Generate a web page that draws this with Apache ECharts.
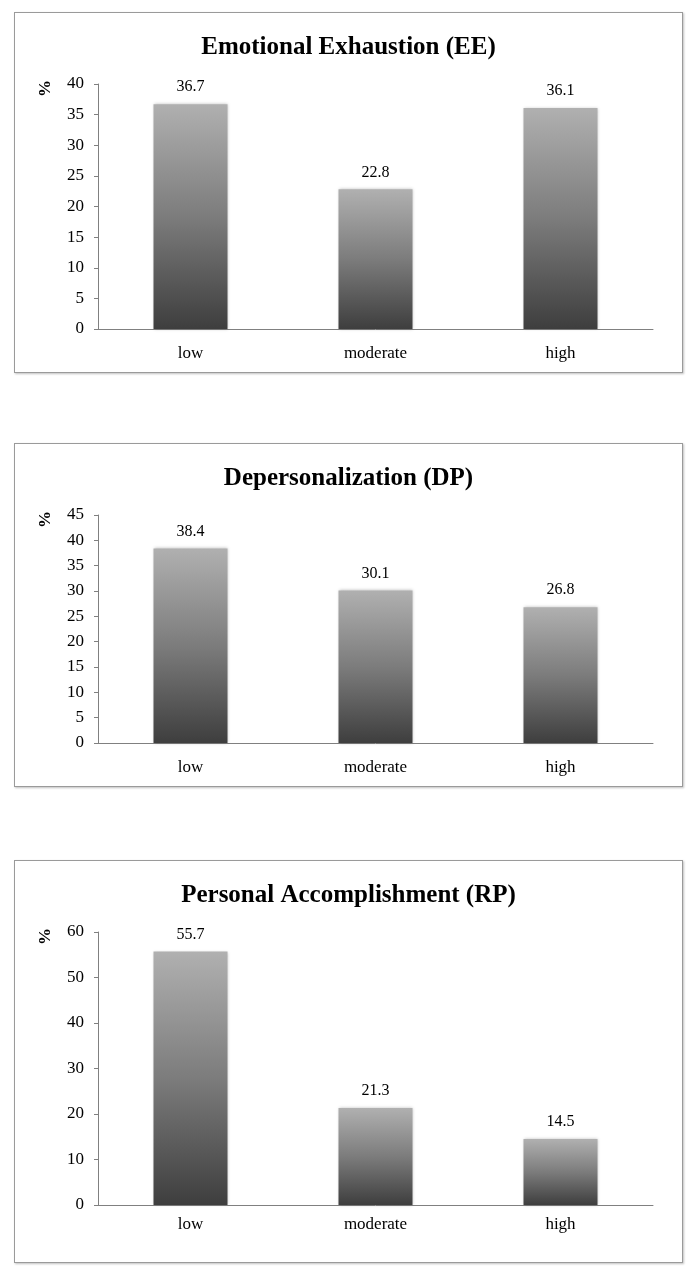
<!DOCTYPE html>
<html>
<head>
<meta charset="utf-8">
<script src="https://cdn.jsdelivr.net/npm/echarts@6/dist/echarts.min.js"></script>
<style>
  html, body { margin: 0; padding: 0; background: #fff; }
  .panel {
    position: absolute;
    left: 14px;
    width: 669px;
    border: 1px solid #9a9a9a;
    box-shadow: 1px 1px 2px rgba(0,0,0,0.25);
    box-sizing: border-box;
  }
  #ee { top: 12px; height: 361px; }
  #dp { top: 443px; height: 344px; }
  #rp { top: 860px; height: 403px; }
</style>
</head>
<body>
<div id="ee" class="panel"></div>
<div id="dp" class="panel"></div>
<div id="rp" class="panel"></div>
<script>
  const categories = ['low', 'moderate', 'high']
  const eeValues = [36.7, 22.8, 36.1] // Emotional Exhaustion
  const dpValues = [38.4, 30.1, 26.8] // Depersonalization
  const rpValues = [55.7, 21.3, 14.5] // Personal Accomplishment

  const FONT = '"Liberation Serif", "DejaVu Serif", serif'

  function makeChart(id, titleText, values, yMax, yStep, gridBottom, labelMargin) {
    const chart = echarts.init(document.getElementById(id))
    chart.setOption({
      animation: false,
      title: {
        text: titleText,
        left: 'center',
        top: 17,
        textStyle: { fontFamily: FONT, fontSize: 25, fontWeight: 'bold', color: '#000' }
      },
      graphic: [{
        type: 'text',
        left: 22,
        top: 67,
        rotation: Math.PI / 2,
        style: { text: '%', font: 'bold 17px ' + FONT, fill: '#000' }
      }],
      grid: { left: 83, right: 29, top: 71, bottom: gridBottom },
      xAxis: {
        type: 'category',
        data: categories,
        axisLine: { lineStyle: { color: '#808080', width: 1 } },
        axisTick: { show: false },
        axisLabel: { color: '#000', fontFamily: FONT, fontSize: 17, margin: labelMargin }
      },
      yAxis: {
        type: 'value',
        min: 0,
        max: yMax,
        interval: yStep,
        splitLine: { show: false },
        axisLine: { show: true, lineStyle: { color: '#808080', width: 1 } },
        axisTick: { show: true, length: 4, lineStyle: { color: '#808080' } },
        axisLabel: { color: '#000', fontFamily: FONT, fontSize: 17, margin: 14 }
      },
      series: [{
        type: 'bar',
        data: values,
        barWidth: '40%',
        itemStyle: {
          color: new echarts.graphic.LinearGradient(0, 0, 0, 1, [
            { offset: 0, color: '#b0b0b0' },
            { offset: 0.5, color: '#7c7c7c' },
            { offset: 1, color: '#3e3e3e' }
          ]),
          shadowColor: 'rgba(0,0,0,0.25)',
          shadowBlur: 3
        },
        label: {
          show: true,
          position: 'top',
          distance: 9,
          color: '#000',
          fontFamily: FONT,
          fontSize: 16,
          formatter: p => p.value.toFixed(1)
        }
      }]
    })
  }

  makeChart('ee', 'Emotional Exhaustion (EE)', eeValues, 40, 5, 43, 16)
  makeChart('dp', 'Depersonalization (DP)', dpValues, 45, 5, 43, 16)
  makeChart('rp', 'Personal Accomplishment (RP)', rpValues, 60, 10, 57, 11)
</script>
</body>
</html>
